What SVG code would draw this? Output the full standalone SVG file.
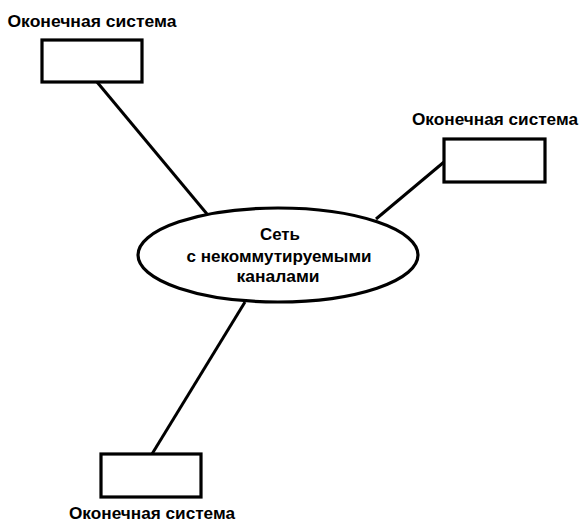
<svg xmlns="http://www.w3.org/2000/svg" width="580" height="522" viewBox="0 0 580 522">
  <style>
    .box { fill: #fff; stroke: #000; stroke-width: 3.2; }
    .net { fill: #fff; stroke: #000; stroke-width: 3.2; }
    .link { stroke: #000; stroke-width: 3; fill: none; }
    .lbl { font-family: "Liberation Sans", Arial, sans-serif; font-weight: bold; font-size: 16px; fill: #000; text-anchor: middle; }
  </style>
  <rect width="580" height="522" fill="#fff"/>

  <!-- connectors from each end system to the network -->
  <g id="connectors">
    <line class="link" x1="97" y1="82" x2="207" y2="214"/>
    <line class="link" x1="444" y1="162" x2="376" y2="219"/>
    <line class="link" x1="245" y1="302" x2="152" y2="454"/>
  </g>

  <g id="network">
    <ellipse class="net" cx="278" cy="255" rx="140" ry="47"/>
    <text class="lbl" x="280" y="240" textLength="40" lengthAdjust="spacingAndGlyphs">Сеть</text>
    <text class="lbl" x="279" y="262" textLength="185" lengthAdjust="spacingAndGlyphs">с некоммутируемыми</text>
    <text class="lbl" x="278" y="282" textLength="83" lengthAdjust="spacingAndGlyphs">каналами</text>
  </g>

  <g id="end-system-1">
    <text class="lbl" x="92" y="27" textLength="169" lengthAdjust="spacingAndGlyphs">Оконечная система</text>
    <rect class="box" x="42" y="40" width="100" height="42"/>
  </g>

  <g id="end-system-2">
    <text class="lbl" x="495" y="125" textLength="166" lengthAdjust="spacingAndGlyphs">Оконечная система</text>
    <rect class="box" x="444" y="139" width="101" height="43"/>
  </g>

  <g id="end-system-3">
    <rect class="box" x="101" y="454" width="100" height="43"/>
    <text class="lbl" x="152" y="519" textLength="166" lengthAdjust="spacingAndGlyphs">Оконечная система</text>
  </g>
</svg>
